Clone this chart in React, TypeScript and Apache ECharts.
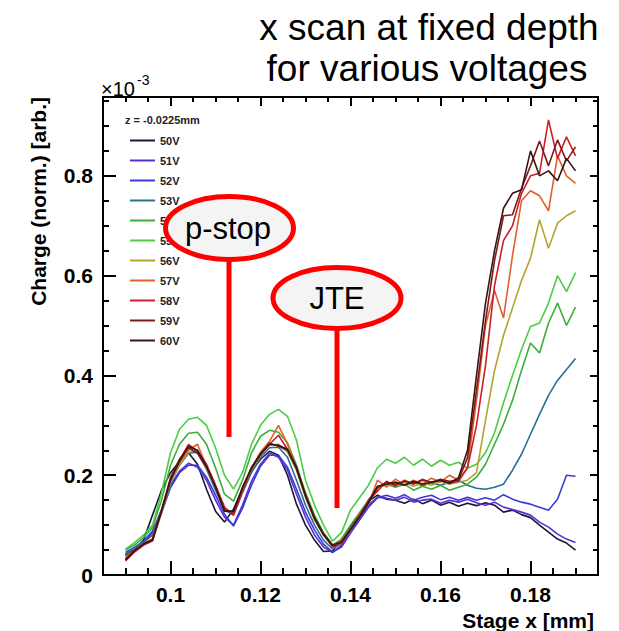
import React, { useEffect, useRef } from "react";
import * as echarts from "echarts";

// Stage x positions [mm]
const stageX = [
  0.09, 0.092, 0.094, 0.096, 0.098, 0.1, 0.102, 0.104, 0.106, 0.108,
  0.11, 0.112, 0.114, 0.116, 0.118, 0.12, 0.122, 0.124, 0.126, 0.128,
  0.13, 0.132, 0.134, 0.136, 0.138, 0.14, 0.142, 0.144, 0.146, 0.148,
  0.15, 0.152, 0.154, 0.156, 0.158, 0.16, 0.162, 0.164, 0.166, 0.168,
  0.17, 0.172, 0.174, 0.176, 0.178, 0.18, 0.182, 0.184, 0.186, 0.188, 0.19,
];

// Charge (norm.) in units of 1e-3, one array per bias voltage
const v50 = [0.040, 0.050, 0.070, 0.120, 0.170, 0.205, 0.228, 0.245, 0.222, 0.172, 0.128, 0.106, 0.132, 0.172, 0.208, 0.232, 0.248, 0.240, 0.200, 0.142, 0.100, 0.070, 0.047, 0.048, 0.072, 0.098, 0.122, 0.148, 0.160, 0.152, 0.150, 0.144, 0.152, 0.143, 0.150, 0.140, 0.146, 0.138, 0.144, 0.139, 0.145, 0.140, 0.126, 0.130, 0.121, 0.115, 0.100, 0.086, 0.072, 0.064, 0.050];
const v51 = [0.038, 0.055, 0.068, 0.088, 0.130, 0.180, 0.208, 0.224, 0.216, 0.190, 0.150, 0.116, 0.100, 0.140, 0.188, 0.222, 0.244, 0.236, 0.210, 0.162, 0.116, 0.080, 0.056, 0.045, 0.060, 0.088, 0.114, 0.140, 0.156, 0.154, 0.150, 0.156, 0.146, 0.150, 0.152, 0.144, 0.150, 0.146, 0.152, 0.145, 0.140, 0.146, 0.136, 0.131, 0.126, 0.120, 0.106, 0.096, 0.082, 0.072, 0.065];
const v52 = [0.045, 0.055, 0.066, 0.085, 0.125, 0.175, 0.205, 0.220, 0.220, 0.196, 0.160, 0.122, 0.098, 0.134, 0.180, 0.218, 0.240, 0.240, 0.216, 0.172, 0.126, 0.090, 0.062, 0.046, 0.056, 0.084, 0.110, 0.136, 0.155, 0.160, 0.154, 0.161, 0.150, 0.156, 0.160, 0.151, 0.156, 0.150, 0.156, 0.150, 0.155, 0.150, 0.161, 0.152, 0.146, 0.142, 0.136, 0.130, 0.152, 0.200, 0.198];
const v53 = [0.042, 0.055, 0.065, 0.080, 0.130, 0.185, 0.220, 0.244, 0.246, 0.212, 0.170, 0.130, 0.120, 0.165, 0.205, 0.236, 0.255, 0.256, 0.236, 0.190, 0.140, 0.100, 0.070, 0.052, 0.064, 0.090, 0.120, 0.150, 0.175, 0.182, 0.186, 0.180, 0.186, 0.179, 0.185, 0.180, 0.186, 0.190, 0.180, 0.174, 0.172, 0.176, 0.182, 0.210, 0.242, 0.282, 0.322, 0.360, 0.390, 0.412, 0.434];
const v54 = [0.050, 0.060, 0.075, 0.095, 0.150, 0.220, 0.262, 0.284, 0.286, 0.262, 0.215, 0.162, 0.148, 0.190, 0.245, 0.278, 0.290, 0.286, 0.265, 0.220, 0.165, 0.120, 0.085, 0.060, 0.072, 0.100, 0.125, 0.150, 0.175, 0.182, 0.176, 0.182, 0.170, 0.178, 0.172, 0.180, 0.170, 0.176, 0.182, 0.196, 0.222, 0.262, 0.302, 0.350, 0.410, 0.465, 0.445, 0.505, 0.545, 0.500, 0.537];
const v55 = [0.052, 0.065, 0.080, 0.100, 0.165, 0.245, 0.292, 0.312, 0.316, 0.300, 0.255, 0.200, 0.172, 0.205, 0.262, 0.300, 0.322, 0.332, 0.318, 0.270, 0.190, 0.140, 0.100, 0.068, 0.085, 0.130, 0.155, 0.180, 0.215, 0.232, 0.224, 0.236, 0.220, 0.232, 0.218, 0.230, 0.220, 0.226, 0.214, 0.222, 0.245, 0.285, 0.345, 0.400, 0.452, 0.498, 0.505, 0.545, 0.600, 0.568, 0.606];
const v56 = [0.035, 0.050, 0.062, 0.072, 0.125, 0.185, 0.222, 0.246, 0.250, 0.214, 0.176, 0.132, 0.124, 0.170, 0.212, 0.240, 0.260, 0.262, 0.246, 0.210, 0.156, 0.112, 0.080, 0.058, 0.066, 0.092, 0.118, 0.146, 0.172, 0.185, 0.180, 0.186, 0.178, 0.184, 0.180, 0.188, 0.182, 0.186, 0.190, 0.205, 0.310, 0.410, 0.480, 0.535, 0.590, 0.635, 0.712, 0.655, 0.705, 0.720, 0.730];
const v57 = [0.030, 0.048, 0.060, 0.070, 0.128, 0.190, 0.226, 0.250, 0.262, 0.218, 0.178, 0.134, 0.122, 0.172, 0.214, 0.246, 0.268, 0.300, 0.262, 0.214, 0.158, 0.112, 0.082, 0.058, 0.070, 0.088, 0.122, 0.142, 0.190, 0.176, 0.192, 0.180, 0.190, 0.182, 0.194, 0.186, 0.200, 0.190, 0.215, 0.350, 0.500, 0.570, 0.515, 0.640, 0.750, 0.770, 0.760, 0.730, 0.840, 0.800, 0.785];
const v58 = [0.028, 0.046, 0.060, 0.068, 0.125, 0.192, 0.230, 0.262, 0.248, 0.222, 0.180, 0.136, 0.120, 0.168, 0.214, 0.244, 0.262, 0.280, 0.252, 0.215, 0.160, 0.114, 0.082, 0.056, 0.064, 0.090, 0.116, 0.150, 0.168, 0.188, 0.178, 0.190, 0.182, 0.192, 0.185, 0.190, 0.184, 0.188, 0.215, 0.300, 0.420, 0.580, 0.670, 0.700, 0.765, 0.800, 0.805, 0.912, 0.835, 0.878, 0.840];
const v59 = [0.032, 0.050, 0.062, 0.072, 0.130, 0.195, 0.232, 0.255, 0.244, 0.216, 0.178, 0.130, 0.126, 0.174, 0.216, 0.242, 0.264, 0.258, 0.250, 0.212, 0.158, 0.112, 0.080, 0.058, 0.066, 0.090, 0.116, 0.144, 0.175, 0.186, 0.182, 0.188, 0.184, 0.190, 0.186, 0.192, 0.188, 0.190, 0.235, 0.370, 0.510, 0.630, 0.720, 0.722, 0.775, 0.820, 0.870, 0.820, 0.872, 0.830, 0.858];
const v60 = [0.030, 0.048, 0.062, 0.070, 0.128, 0.190, 0.228, 0.258, 0.250, 0.218, 0.176, 0.128, 0.128, 0.176, 0.214, 0.242, 0.262, 0.260, 0.252, 0.216, 0.160, 0.115, 0.082, 0.060, 0.066, 0.092, 0.118, 0.146, 0.178, 0.182, 0.186, 0.180, 0.188, 0.182, 0.186, 0.190, 0.184, 0.195, 0.250, 0.400, 0.545, 0.650, 0.735, 0.765, 0.772, 0.850, 0.800, 0.810, 0.790, 0.835, 0.810];

const voltageNames = ["50V", "51V", "52V", "53V", "54V", "55V", "56V", "57V", "58V", "59V", "60V"];
const voltageValues = [v50, v51, v52, v53, v54, v55, v56, v57, v58, v59, v60];
const voltageColors = ["#1c1638", "#5a2fd2", "#3a3ad6", "#2a6e92", "#3aae3a", "#4ccc44", "#b3a42c", "#e0602c", "#cc2028", "#7e1a1a", "#3a1414"];

// axis ticks
const xMajorLabels = [0.1, 0.12, 0.14, 0.16, 0.18];
const yMajorLabels = [0, 0.2, 0.4, 0.6, 0.8];
const xMajorStep = 0.02;
const xMinorStep = 0.005;
const yMajorStep = 0.2;
const yMinorStep = 0.05;

const X_MIN = 0.085;
const X_MAX = 0.195;
const Y_MIN = 0;
const Y_MAX = 0.958;

const FONT = "'Liberation Sans', Arial, Helvetica, sans-serif";

const noLine = () => ({ show: false, onZero: false });
const ticks = (length: number) => ({
  show: true,
  inside: true,
  length,
  lineStyle: { color: "#000000", width: 2, opacity: 1 },
});

export default function App() {
  const ref = useRef<HTMLDivElement | null>(null);

  useEffect(() => {
    if (!ref.current) return;
    const chart = echarts.init(ref.current, undefined, { renderer: "svg" });

    const black = "#000";
    const gridRect = { left: 103, top: 97, right: 21, bottom: 56 };

    const option: any = {
      animation: false,
      backgroundColor: "#fff",
      grid: [
        { ...gridRect, containLabel: false, show: true, borderColor: "#000000", borderWidth: 2, backgroundColor: "transparent", z: 5 },
        { ...gridRect, containLabel: false },
      ],
      xAxis: [
        {
          type: "value", gridIndex: 0, position: "bottom", min: X_MIN, max: X_MAX,
          splitNumber: Math.round((X_MAX - X_MIN) / xMajorStep),
          splitLine: { show: false },
          axisLine: noLine(),
          axisTick: ticks(14),
          axisLabel: {
            show: true,
            customValues: xMajorLabels,
            margin: 9,
            color: black,
            fontSize: 21,
            fontWeight: "bold",
            fontFamily: FONT,
            formatter: (v: number) => String(v),
          },
        },
        {
          type: "value", gridIndex: 0, position: "top", min: X_MIN, max: X_MAX,
          splitNumber: Math.round((X_MAX - X_MIN) / xMajorStep),
          splitLine: { show: false },
          axisLine: noLine(),
          axisTick: ticks(9),
          axisLabel: { show: false },
        },
        {
          type: "value", gridIndex: 1, position: "bottom", min: X_MIN, max: X_MAX, interval: xMinorStep,
          splitLine: { show: false },
          axisLine: noLine(),
          axisTick: ticks(7),
          axisLabel: { show: false },
        },
        {
          type: "value", gridIndex: 1, position: "top", min: X_MIN, max: X_MAX, interval: xMinorStep,
          splitLine: { show: false },
          axisLine: noLine(),
          axisTick: ticks(5),
          axisLabel: { show: false },
        },
      ],
      yAxis: [
        {
          type: "value", gridIndex: 0, position: "left", min: Y_MIN, max: Y_MAX, interval: yMajorStep,
          splitLine: { show: false },
          axisLine: noLine(),
          axisTick: ticks(13),
          axisLabel: {
            show: true,
            customValues: yMajorLabels,
            margin: 10,
            color: black,
            fontSize: 21,
            fontWeight: "bold",
            fontFamily: FONT,
            formatter: (v: number) => String(v),
          },
        },
        {
          type: "value", gridIndex: 0, position: "right", min: Y_MIN, max: Y_MAX, interval: yMajorStep,
          splitLine: { show: false },
          axisLine: noLine(),
          axisTick: ticks(8),
          axisLabel: { show: false },
        },
        {
          type: "value", gridIndex: 1, position: "left", min: Y_MIN, max: Y_MAX, interval: yMinorStep,
          splitLine: { show: false },
          axisLine: noLine(),
          axisTick: ticks(6),
          axisLabel: { show: false },
        },
        {
          type: "value", gridIndex: 1, position: "right", min: Y_MIN, max: Y_MAX, interval: yMinorStep,
          splitLine: { show: false },
          axisLine: noLine(),
          axisTick: ticks(5),
          axisLabel: { show: false },
        },
      ],
      legend: {
        show: true,
        orient: "vertical",
        left: 125,
        top: 130,
        itemWidth: 25,
        itemHeight: 14,
        itemGap: 9,
        icon: "path://M0,0H25V2H0Z",
        selectedMode: false,
        data: voltageNames,
        textStyle: { color: "#222", fontSize: 11, fontWeight: "bold", fontFamily: FONT },
      },
      series: voltageNames.map((name, k) => ({
        name,
        type: "line",
        xAxisIndex: 0,
        yAxisIndex: 0,
        symbol: "none",
        showSymbol: false,
        clip: true,
        color: voltageColors[k],
        itemStyle: { color: voltageColors[k] },
        lineStyle: { color: voltageColors[k], width: 1.6 },
        data: stageX.map((x, i) => [x, voltageValues[k][i]]),
      })),
      graphic: [
        {
          type: "text", x: 125, y: 120, z: 50,
          style: { text: "z = -0.0225mm", fill: "#222", font: `bold 11px ${FONT}`, textAlign: "left", textVerticalAlign: "middle" },
        },
        {
          type: "text", x: 101, y: 89, z: 50,
          style: { text: "×10", fill: black, font: `20px ${FONT}`, textAlign: "left", textVerticalAlign: "middle" },
        },
        {
          type: "text", x: 137, y: 80, z: 50,
          style: { text: "-3", fill: black, font: `14px ${FONT}`, textAlign: "left", textVerticalAlign: "middle" },
        },
        {
          type: "text", x: 429, y: 27, z: 50,
          style: { text: "x scan at fixed depth", fill: black, font: `37px ${FONT}`, textAlign: "center", textVerticalAlign: "middle" },
        },
        {
          type: "text", x: 427, y: 68, z: 50,
          style: { text: "for various voltages", fill: black, font: `37px ${FONT}`, textAlign: "center", textVerticalAlign: "middle" },
        },
        {
          type: "text", x: 38, y: 97, rotation: Math.PI / 2, z: 50,
          style: { text: "Charge (norm.) [arb.]", fill: black, font: `bold 21px ${FONT}`, textAlign: "right", textVerticalAlign: "middle" },
        },
        {
          type: "text", x: 594, y: 620, z: 50,
          style: { text: "Stage x [mm]", fill: black, font: `bold 21px ${FONT}`, textAlign: "right", textVerticalAlign: "middle" },
        },
        {
          type: "line", z: 100,
          shape: { x1: 229, y1: 240, x2: 229, y2: 437 },
          style: { stroke: "#ff0000", lineWidth: 5 },
        },
        {
          type: "line", z: 100,
          shape: { x1: 337, y1: 300, x2: 337, y2: 508 },
          style: { stroke: "#ff0000", lineWidth: 5 },
        },
        {
          type: "ellipse", z: 101,
          shape: { cx: 229.5, cy: 228, rx: 64, ry: 31.5 },
          style: { fill: "#f4f4f4", stroke: "#ff0000", lineWidth: 5 },
        },
        {
          type: "ellipse", z: 101,
          shape: { cx: 337, cy: 298, rx: 64, ry: 30.5 },
          style: { fill: "#f4f4f4", stroke: "#ff0000", lineWidth: 5 },
        },
        {
          type: "text", x: 228, y: 228, z: 102,
          style: { text: "p-stop", fill: black, font: `31px ${FONT}`, textAlign: "center", textVerticalAlign: "middle" },
        },
        {
          type: "text", x: 337, y: 298, z: 102,
          style: { text: "JTE", fill: black, font: `31px ${FONT}`, textAlign: "center", textVerticalAlign: "middle" },
        },
      ],
    };

    chart.setOption(option);
    return () => {
      chart.dispose();
    };
  }, []);

  return (
    <div
      ref={ref}
      style={{ position: "fixed", left: 0, top: 0, width: 619, height: 631, background: "#fff" }}
    />
  );
}
